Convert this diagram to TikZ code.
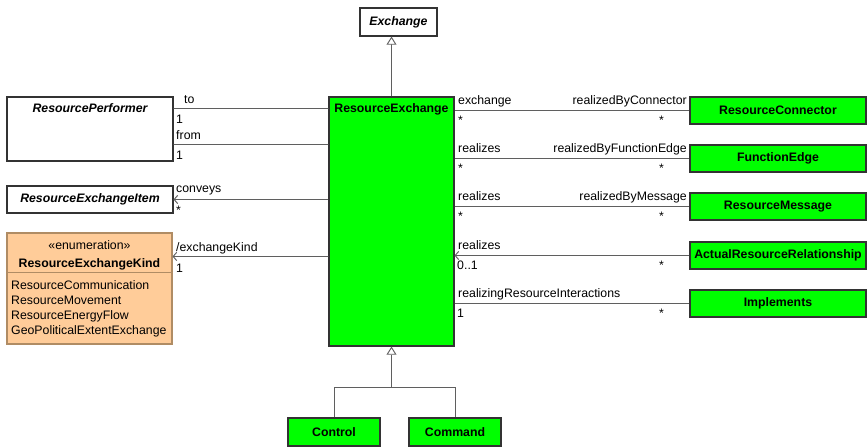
\documentclass[tikz,border=0pt]{standalone}
\usepackage{fontspec}
\setmainfont{Liberation Sans}
\usetikzlibrary{arrows.meta, positioning, calc}

\definecolor{umlgreen}{RGB}{0,255,0}
\definecolor{enumfill}{RGB}{255,204,153}
\definecolor{enumdraw}{RGB}{176,140,100}
\definecolor{linegray}{RGB}{95,95,95}

\begin{document}
\begin{tikzpicture}[x=0.03cm, y=-0.03cm,
    font=\fontsize{10.5}{12.6}\selectfont,
    box/.style={draw=black!80, line width=0.9pt, fill=white, inner sep=0pt,
                font=\fontsize{10.5}{12.6}\selectfont\bfseries\itshape},
    block/.style={draw=black!80, line width=0.9pt, fill=umlgreen, inner sep=0pt,
                  font=\fontsize{10.5}{12.6}\selectfont\bfseries,
                  minimum width=5.28cm, minimum height=0.81cm},
    assoc/.style={draw=linegray, line width=0.8pt},
    arrow/.style={assoc, -{Straight Barb[length=3pt, width=7pt]}},
    inherit/.style={assoc, -{Triangle[open, length=7pt, width=8.5pt, fill=white]}},
    lbl/.style={inner sep=0pt, anchor=base west},
    rlbl/.style={inner sep=0pt, anchor=base east}
  ]
  \useasboundingbox (0,0) rectangle (867,447);

  % classes
  \node[box, minimum width=2.31cm, minimum height=0.84cm] (exch) at (398.5,22) {Exchange};
  \node[block, minimum width=3.75cm, minimum height=7.47cm] (rex) at (391.5,221.5) {};
  \node[font=\fontsize{10.5}{12.6}\selectfont\bfseries, anchor=base, inner sep=0pt]
    (rexname) at (391.5,112) {ResourceExchange};

  \node[box, minimum width=4.98cm, minimum height=1.92cm] (perf) at (90,129) {};
  \node[font=\fontsize{10.5}{12.6}\selectfont\bfseries\itshape, anchor=base, inner sep=0pt]
    (perfname) at (90,112) {ResourcePerformer};
  \node[box, minimum width=4.98cm, minimum height=0.81cm] (item) at (90,199.5) {ResourceExchangeItem};

  % enumeration
  \node[draw=enumdraw, line width=0.9pt, fill=enumfill, inner sep=0pt,
        minimum width=4.95cm, minimum height=3.33cm] (kind) at (89.5,288.5) {};
  \node[anchor=base, inner sep=0pt] (kindst) at (89.5,249) {«enumeration»};
  \node[anchor=base, inner sep=0pt, font=\fontsize{10.5}{12.6}\selectfont\bfseries]
    (kindname) at (89.5,267) {ResourceExchangeKind};
  \draw[enumdraw, line width=0.8pt] ($(kind.north west)+(0,40)$) -- ($(kind.north east)+(0,40)$);
  \foreach \lit [count=\i] in {ResourceCommunication, ResourceMovement,
                               ResourceEnergyFlow, GeoPoliticalExtentExchange}
    \node[lbl] (kind\i) at (11,274+15*\i) {\lit};

  % right side
  \node[block] (rc) at (778,110.5) {ResourceConnector};
  \node[block] (fe) at (778,158.5) {FunctionEdge};
  \node[block] (rm) at (778,206.5) {ResourceMessage};
  \node[block] (arr) at (778,255.5) {ActualResourceRelationship};
  \node[block] (impl) at (778,303.5) {Implements};

  \node[block, minimum width=2.76cm, minimum height=0.84cm] (ctl) at (334,432) {Control};
  \node[block, minimum width=2.76cm, minimum height=0.84cm] (cmd) at (455,432) {Command};

  % generalizations
  \draw[inherit] (rex.north) -- (rex.north |- exch.south);
  \coordinate (join) at ($(rex.south)+(0,41)$);
  \draw[assoc] (ctl.north) |- (join) -| (cmd.north);
  \draw[inherit] (join) -- (rex.south);

  % left associations
  \draw[assoc] ($(perf.north east)+(0,12)$) -- ($(rex.north west)+(0,12)$);
  \draw[assoc] ($(perf.north east)+(0,48)$) -- ($(rex.north west)+(0,48)$);
  \draw[arrow] (rex.west |- item.east) -- (item.east);
  \draw[arrow] ($(rex.north west)+(0,160)$) -- ($(kind.north east)+(0,24)$);

  \node[lbl] (lto) at (184,103) {to};
  \node[lbl] (lto1) at (176,123) {1};
  \node[lbl] (lfrom) at (176,139) {from};
  \node[lbl] (lfrom1) at (176,159) {1};
  \node[lbl] (lconv) at (176,192) {conveys};
  \node[lbl] (lconvm) at (176,214) {*};
  \node[lbl] (lkind) at (176,251) {/exchangeKind};
  \node[lbl] (lkind1) at (176,272) {1};

  % right associations
  \draw[assoc] (rex.east |- rc.west) -- (rc.west);
  \draw[assoc] (rex.east |- fe.west) -- (fe.west);
  \draw[assoc] (rex.east |- rm.west) -- (rm.west);
  \draw[arrow] (arr.west) -- (rex.east |- arr.west);
  \draw[assoc] (rex.east |- impl.west) -- (impl.west);

  \node[lbl] (lex) at (458,104.5) {exchange};
  \node[rlbl] (lrbc) at (687,104.5) {realizedByConnector};
  \node[lbl] (lexm) at (458,124.5) {*};
  \node[lbl] (lrbcm) at (659,124.5) {*};

  \node[lbl] (lfe) at (458,152.5) {realizes};
  \node[rlbl] (lrbf) at (687,152.5) {realizedByFunctionEdge};
  \node[lbl] (lfem) at (458,172.5) {*};
  \node[lbl] (lrbfm) at (659,172.5) {*};

  \node[lbl] (lrm) at (458,200.5) {realizes};
  \node[rlbl] (lrbm) at (687,200.5) {realizedByMessage};
  \node[lbl] (lrmm) at (458,220.5) {*};
  \node[lbl] (lrbmm) at (659,220.5) {*};

  \node[lbl] (larr) at (458,249.5) {realizes};
  \node[lbl] (larrm) at (457,269.5) {0..1};
  \node[lbl] (larrs) at (659,269.5) {*};

  \node[lbl] (limpl) at (458,297.5) {realizingResourceInteractions};
  \node[lbl] (limpl1) at (457,317.5) {1};
  \node[lbl] (limpls) at (659,317.5) {*};
\end{tikzpicture}
\end{document}
